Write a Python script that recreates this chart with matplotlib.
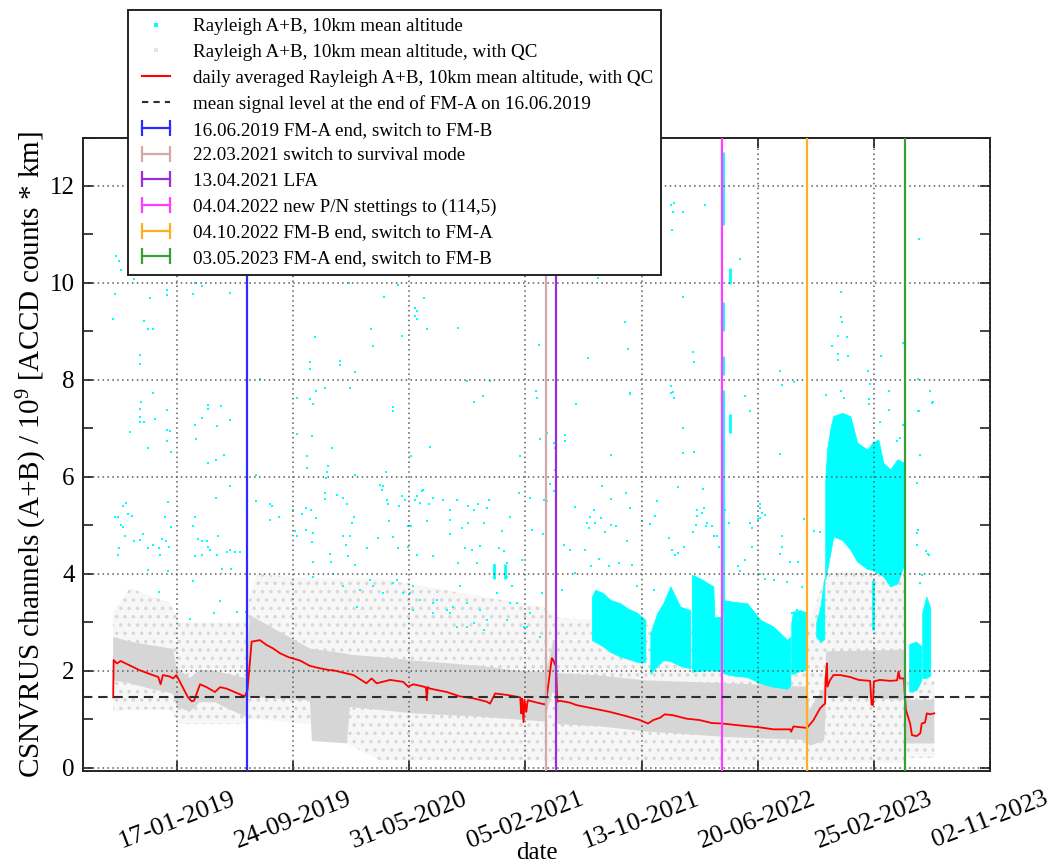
import numpy as np
import pandas as pd
import matplotlib
matplotlib.use("Agg")
import matplotlib.pyplot as plt
import matplotlib.dates as mdates
from matplotlib.lines import Line2D
from matplotlib.legend_handler import HandlerLine2D
from matplotlib.ticker import MultipleLocator

plt.rcParams['font.family'] = ['Liberation Serif', 'DejaVu Serif']
plt.rcParams['mathtext.fontset'] = 'custom'
plt.rcParams['mathtext.rm'] = 'Liberation Serif'
plt.rcParams['mathtext.it'] = 'Liberation Serif:italic'
plt.rcParams['hatch.linewidth'] = 1.3

# ---------------------------------------------------------------- data
# daily averaged Rayleigh A+B signal (with QC), per instrument period
red_fma1_dates = ["2018-09-02", "2018-09-03", "2018-09-10", "2018-09-18", "2018-10-29",
                  "2018-11-20", "2018-12-08", "2018-12-13", "2018-12-18", "2019-01-02",
                  "2019-01-09", "2019-01-16", "2019-02-10", "2019-02-18", "2019-02-23",
                  "2019-03-08", "2019-03-22", "2019-04-09", "2019-04-20", "2019-05-04",
                  "2019-05-26", "2019-06-12"]
red_fma1_vals = [1.45, 2.22, 2.15, 2.20, 2.01, 1.93, 1.87, 1.72, 1.91, 1.88, 1.84, 1.91,
                 1.45, 1.37, 1.38, 1.72, 1.66, 1.56, 1.66, 1.63, 1.54, 1.47]

red_fmb1_dates = ["2019-06-18", "2019-06-27", "2019-07-15", "2019-07-29", "2019-08-12",
                  "2019-08-27", "2019-09-14", "2019-10-09", "2019-10-30", "2019-11-21",
                  "2019-12-12", "2019-12-19",
                  "2020-02-01", "2020-02-29", "2020-03-11", "2020-03-22", "2020-04-20",
                  "2020-05-18", "2020-05-29", "2020-06-09", "2020-07-06", "2020-07-08",
                  "2020-07-10", "2020-07-15", "2020-08-20", "2020-09-17", "2020-10-16",
                  "2020-11-14", "2020-11-21", "2020-12-02", "2020-12-27",
                  "2021-01-25", "2021-01-27", "2021-01-29", "2021-02-01", "2021-02-03",
                  "2021-02-07", "2021-02-10", "2021-02-11", "2021-02-22", "2021-03-16",
                  "2021-03-20"]
red_fmb1_vals = [1.60, 2.60, 2.63, 2.53, 2.46, 2.36, 2.28, 2.21, 2.10, 2.05, 2.01, 2.01,
                 1.91, 1.74, 1.84, 1.74, 1.81, 1.77, 1.67, 1.72, 1.66, 1.39, 1.66, 1.63,
                 1.56, 1.47, 1.43, 1.36, 1.32, 1.53, 1.50,
                 1.45, 1.12, 1.42, 0.94, 1.40, 1.15, 1.38, 1.39, 1.36, 1.31, 1.30]

red_survival_dates = ["2021-03-23", "2021-04-03", "2021-04-06", "2021-04-10", "2021-04-12"]
red_survival_vals = [1.46, 2.26, 2.22, 2.12, 2.10]

red_fmb2_dates = ["2021-04-15", "2021-04-20", "2021-05-12", "2021-05-26", "2021-07-01",
                  "2021-08-06", "2021-09-11", "2021-10-10", "2021-10-27", "2021-11-07",
                  "2021-11-22", "2021-12-02", "2021-12-20",
                  "2022-01-18", "2022-02-16", "2022-03-13", "2022-04-05", "2022-05-13",
                  "2022-06-25", "2022-07-24", "2022-08-29", "2022-08-31", "2022-09-05",
                  "2022-10-03"]
red_fmb2_vals = [1.36, 1.38, 1.34, 1.29, 1.22, 1.15, 1.06, 0.98, 0.91, 0.98, 1.03, 1.10,
                 1.08, 1.01, 0.98, 0.92, 0.91, 0.87, 0.83, 0.79, 0.79, 0.74, 0.85, 0.82]

red_fma2_dates = ["2022-10-06", "2022-10-18", "2022-11-01", "2022-11-08", "2022-11-12",
                  "2022-11-13", "2022-11-16", "2022-11-17", "2022-11-23", "2022-11-30",
                  "2022-12-14",
                  "2023-01-05", "2023-01-23", "2023-02-17", "2023-02-20", "2023-02-23",
                  "2023-02-25", "2023-03-10", "2023-04-01", "2023-04-16", "2023-04-19",
                  "2023-04-22", "2023-05-01", "2023-05-02"]
red_fma2_vals = [0.84, 0.98, 1.22, 1.29, 1.32, 1.81, 2.15, 1.67, 1.81, 1.91, 1.91,
                 1.87, 1.81, 1.79, 1.30, 1.29, 1.78, 1.81, 1.79, 1.80, 1.98, 1.84, 1.84, 1.60]

red_fmb3_dates = ["2023-05-05", "2023-05-14", "2023-05-18", "2023-05-28", "2023-06-05",
                  "2023-06-08", "2023-06-15", "2023-06-19", "2023-06-26", "2023-07-05"]
red_fmb3_vals = [1.19, 0.91, 0.67, 0.65, 0.71, 0.91, 0.93, 1.12, 1.10, 1.12]

# QC-passed single measurements: dense core (decimal year, low, high)
qc_core_year = [2018.668, 2018.767, 2018.884, 2019.020, 2019.044, 2019.120, 2019.179,
                2019.268, 2019.356, 2019.451, 2019.456, 2019.474, 2019.651, 2019.828,
                2019.840, 2020.046, 2020.064, 2020.240, 2020.435, 2020.830, 2021.025,
                2021.213, 2021.219, 2021.260, 2021.280, 2021.285, 2021.538, 2021.803,
                2022.286, 2022.755, 2022.770, 2022.858, 2022.870, 2023.331, 2023.340,
                2023.507]
qc_core_low = [1.80, 1.74, 1.63, 1.53, 1.26, 1.15, 1.35, 1.35, 1.20, 1.05, 1.40, 1.46,
               1.42, 1.39, 0.55, 0.50, 1.25, 1.19, 1.12, 1.05, 1.00, 0.95, 1.10, 1.60,
               1.50, 0.90, 0.85, 0.75, 0.63, 0.57, 0.45, 0.55, 1.46, 1.40, 0.50, 0.50]
qc_core_high = [2.70, 2.60, 2.53, 2.45, 2.05, 1.85, 2.02, 2.00, 1.92, 1.85, 2.10, 3.15,
                2.80, 2.46, 2.45, 2.35, 2.33, 2.28, 2.21, 2.10, 2.01, 1.97, 2.00, 2.60,
                2.50, 1.95, 1.90, 1.80, 1.74, 1.67, 1.20, 1.65, 2.40, 2.43, 1.40, 1.40]

# QC-passed single measurements: sparse spread (decimal year, low, high)
qc_spread_year = [2018.668, 2018.767, 2019.002, 2019.061, 2019.451, 2019.456, 2019.515,
                  2019.828, 2020.240, 2021.213, 2021.285, 2022.755, 2022.770, 2022.870,
                  2023.331, 2023.340, 2023.507]
qc_spread_low = [1.15, 1.20, 1.20, 0.90, 0.90, 1.00, 1.00, 0.90, 0.15, 0.15, 0.05, 0.05,
                 0.10, 0.10, 0.10, 0.20, 0.20]
qc_spread_high = [3.20, 3.70, 3.40, 3.00, 3.00, 3.30, 4.00, 3.90, 3.90, 3.30, 3.10, 2.70,
                  3.00, 4.00, 4.20, 1.80, 1.80]

# all measurements without QC: dense clusters (decimal year, low, high)
raw_clusters = [
    ([2021.489, 2021.508, 2021.555, 2021.597, 2021.656, 2021.697, 2021.756, 2021.803],
     [2.63, 2.60, 2.50, 2.39, 2.29, 2.25, 2.18, 2.18],
     [3.53, 3.67, 3.60, 3.46, 3.39, 3.29, 3.19, 3.05]),
    ([2021.833, 2021.874, 2021.909, 2021.951, 2021.980, 2022.009, 2022.068],
     [1.94, 2.10, 2.22, 2.20, 2.15, 2.10, 2.05],
     [2.77, 3.19, 3.39, 3.74, 3.53, 3.32, 3.25]),
    ([2022.078, 2022.127, 2022.204, 2022.210, 2022.257],
     [1.98, 2.00, 2.01, 2.00, 2.00],
     [3.98, 3.90, 3.74, 3.10, 3.12]),
    ([2022.263, 2022.322, 2022.404, 2022.481, 2022.558, 2022.640, 2022.658],
     [1.95, 1.90, 1.87, 1.74, 1.67, 1.63, 1.70],
     [3.46, 3.42, 3.39, 3.05, 2.91, 2.63, 2.70]),
    ([2022.664, 2022.675, 2022.717, 2022.752],
     [1.94, 1.94, 2.00, 2.01],
     [3.00, 3.22, 3.25, 3.20]),
    ([2022.811, 2022.835, 2022.858],
     [2.70, 2.60, 2.65],
     [3.00, 3.30, 3.90]),
    ([2022.864, 2022.876, 2022.894, 2022.911, 2022.964, 2023.012, 2023.053, 2023.112,
      2023.141, 2023.177, 2023.206, 2023.247, 2023.289, 2023.324, 2023.333],
     [3.88, 4.10, 4.43, 4.77, 4.70, 4.50, 4.25, 4.10, 4.08, 4.01, 3.95, 3.74, 3.80, 4.15, 4.20],
     [5.94, 6.60, 6.98, 7.25, 7.32, 7.25, 6.70, 6.56, 6.70, 6.77, 6.29, 6.15, 6.36, 6.30, 6.00]),
    ([2023.359, 2023.401, 2023.430],
     [1.57, 1.60, 1.80],
     [2.55, 2.60, 2.50]),
    ([2023.436, 2023.460, 2023.483],
     [1.85, 1.85, 1.90],
     [3.20, 3.53, 3.30]),
]

# narrow runs of consecutive raw measurements (decimal year, low, high)
raw_run_year = [2022.260, 2022.263, 2022.263, 2022.263, 2022.263, 2022.300, 2022.300,
                2023.147, 2020.909, 2020.977]
raw_run_low = [11.20, 9.00, 8.10, 7.00, 3.20, 9.97, 6.90, 2.84, 3.90, 3.90]
raw_run_high = [12.70, 9.60, 8.50, 7.80, 7.20, 10.30, 7.30, 3.88, 4.20, 4.20]

# isolated raw measurements (decimal year, value)
raw_isolated = [
    (2018.712, 10.26), (2018.790, 10.08), (2018.678, 9.77), (2018.886, 9.68), (2018.983, 9.86),
    (2018.983, 9.75), (2018.668, 9.25), (2018.851, 9.22), (2018.871, 9.04), (2018.904, 9.04),
    (2018.825, 8.51), (2018.825, 8.33), (2019.140, 9.77), (2019.193, 9.93), (2019.360, 9.79),
    (2019.150, 10.00), (2018.904, 7.72), (2018.830, 7.54), (2018.825, 7.39), (2018.825, 7.23),
    (2018.851, 7.13), (2018.825, 7.13), (2018.983, 7.37), (2018.914, 7.20), (2018.765, 6.92),
    (2018.983, 6.97), (2019.002, 6.95), (2018.983, 6.74), (2018.871, 6.59), (2019.008, 6.52),
    (2019.228, 7.49), (2019.228, 7.39), (2019.307, 7.47), (2019.195, 7.22), (2019.150, 7.07),
    (2019.278, 7.04), (2019.360, 7.17), (2019.157, 6.79), (2019.322, 6.46), (2019.272, 6.34),
    (2019.228, 6.28), (2018.684, 10.55), (2018.702, 10.45),
    (2019.535, 8.02), (2019.513, 6.03), (2019.857, 8.88), (2019.828, 8.36), (2019.828, 8.22),
    (2020.005, 8.39), (2020.005, 8.30), (2020.093, 8.17), (2020.187, 9.04), (2020.197, 8.70),
    (2020.266, 9.71), (2020.372, 8.91), (2020.348, 9.96), (2020.058, 9.99), (2019.918, 7.84),
    (2019.865, 7.77), (2019.828, 7.60), (2019.845, 7.50), (2019.753, 7.63), (2020.064, 7.84),
    (2020.319, 7.45), (2020.319, 7.36), (2019.753, 6.89), (2019.838, 6.84), (2019.959, 6.59),
    (2019.814, 6.43), (2019.814, 6.18), (2019.934, 6.22), (2019.928, 6.10), (2019.922, 5.98),
    (2020.276, 6.10), (2020.093, 6.03), (2020.423, 6.43), (2020.447, 9.49), (2020.457, 9.42),
    (2020.447, 9.32), (2020.460, 9.25), (2020.502, 9.68), (2020.519, 9.04), (2020.702, 9.06),
    (2020.755, 7.97), (2020.889, 7.97), (2020.791, 7.54), (2020.844, 7.66), (2020.535, 6.62),
    (2021.062, 6.43), (2021.184, 6.77), (2021.158, 7.77), (2021.164, 7.63), (2021.174, 8.71),
    (2021.954, 11.60), (2021.970, 11.65), (2021.966, 11.46), (2022.023, 11.46), (2021.960, 11.09),
    (2022.153, 11.60), (2022.363, 10.50), (2023.418, 10.90), (2021.522, 10.10), (2022.023, 9.71),
    (2021.681, 9.20), (2021.699, 8.63), (2021.463, 8.45), (2022.082, 8.57), (2022.092, 8.37),
    (2021.715, 7.71), (2021.394, 7.51), (2021.954, 7.87), (2021.966, 7.74), (2021.970, 7.63),
    (2022.388, 7.67), (2022.422, 7.36), (2022.599, 8.18), (2022.609, 7.90), (2022.677, 7.96),
    (2022.957, 9.82), (2022.957, 9.29), (2022.963, 9.20), (2022.939, 8.91), (2022.992, 8.89),
    (2022.904, 8.70), (2022.939, 8.54), (2022.939, 8.42), (2023.000, 8.50), (2022.868, 7.69),
    (2022.957, 7.78), (2022.976, 7.63), (2023.114, 8.18), (2023.130, 7.91), (2023.120, 7.61),
    (2023.120, 7.51), (2023.193, 8.50), (2023.237, 7.77), (2023.237, 7.38), (2023.322, 8.76),
    (2023.411, 8.02), (2023.411, 7.35), (2023.479, 7.77), (2023.497, 7.54), (2023.188, 7.14),
    (2023.322, 7.06), (2021.331, 6.87), (2021.331, 6.73), (2021.262, 6.70), (2021.272, 6.60),
    (2021.601, 6.44), (2022.023, 7.01), (2022.023, 6.49), (2022.092, 6.51), (2022.599, 6.47),
    (2021.223, 6.90), (2021.272, 6.15), (2023.287, 6.73), (2023.414, 7.36), (2023.424, 6.46),
    (2023.405, 5.87), (2023.306, 6.80), (2023.493, 7.53),
    (2018.678, 5.18), (2018.697, 5.18), (2018.727, 5.39), (2018.747, 5.46), (2018.756, 5.23),
    (2018.782, 5.20), (2018.713, 5.01), (2018.727, 4.96), (2018.739, 4.77), (2018.790, 4.67),
    (2018.825, 4.70), (2018.845, 4.81), (2018.703, 4.53), (2018.694, 4.38), (2018.874, 4.53),
    (2018.904, 4.60), (2018.939, 4.53), (2018.959, 4.72), (2018.979, 4.67), (2018.998, 4.56),
    (2018.943, 4.39), (2018.975, 5.18), (2018.992, 5.48), (2019.008, 4.96), (2019.148, 5.18),
    (2019.140, 4.99), (2019.166, 4.72), (2019.195, 4.67), (2019.219, 4.67), (2019.228, 4.56),
    (2019.242, 4.50), (2019.287, 4.77), (2019.150, 4.36), (2019.195, 4.38), (2019.278, 4.39),
    (2019.337, 4.44), (2019.360, 4.50), (2019.386, 4.44), (2019.415, 4.44), (2019.272, 5.56),
    (2019.360, 5.82),
    (2019.513, 5.51), (2019.594, 5.44), (2019.602, 5.40), (2019.592, 5.11), (2019.647, 5.17),
    (2019.726, 5.32), (2019.779, 5.23), (2019.808, 5.36), (2019.835, 5.31), (2019.863, 5.15),
    (2019.920, 5.67), (2019.920, 5.54), (2019.987, 5.63), (2020.024, 5.57), (2020.048, 5.44),
    (2020.089, 5.17), (2020.077, 5.05), (2019.743, 4.88), (2019.753, 4.77), (2019.804, 4.91),
    (2019.847, 4.84), (2019.841, 4.65), (2019.847, 4.25), (2019.946, 4.40), (2019.952, 4.25),
    (2020.024, 4.77), (2020.044, 4.60), (2020.064, 4.77), (2020.050, 4.36), (2020.093, 4.19),
    (2020.162, 4.54), (2020.230, 4.73), (2020.256, 5.81), (2020.250, 5.73), (2020.240, 5.84),
    (2020.283, 5.53), (2020.286, 5.43), (2020.294, 5.08), (2020.319, 4.75), (2020.345, 4.53),
    (2020.354, 5.39), (2020.368, 5.60), (2020.388, 5.53), (2020.404, 4.56), (2020.407, 4.98),
    (2020.423, 4.98), (2020.447, 5.53), (2020.460, 5.60), (2020.476, 5.46), (2020.486, 5.70),
    (2020.496, 5.73), (2020.531, 5.43), (2020.555, 5.56), (2020.516, 5.08), (2020.555, 4.37),
    (2020.460, 4.38), (2020.614, 5.53), (2020.653, 5.32), (2020.653, 5.11), (2020.693, 5.53),
    (2020.761, 5.39), (2020.791, 5.32), (2020.820, 5.44), (2020.879, 5.53), (2020.870, 5.36),
    (2020.850, 5.05), (2020.761, 5.05), (2020.722, 4.94), (2020.653, 4.81), (2020.742, 4.53),
    (2020.781, 4.48), (2020.830, 4.58), (2020.938, 4.53), (2020.968, 4.46), (2020.958, 4.88),
    (2021.007, 5.18), (2021.056, 5.67), (2021.125, 5.56), (2021.135, 4.91), (2021.203, 5.53),
    (2021.200, 4.81), (2020.702, 4.22), (2020.811, 4.23), (2020.909, 4.18), (2020.987, 4.22),
    (2021.076, 4.29),
    (2021.223, 5.50), (2021.203, 5.52), (2021.243, 5.85), (2021.262, 5.70), (2021.390, 5.38),
    (2021.498, 5.31), (2021.479, 5.18), (2021.459, 5.05), (2021.469, 4.94), (2021.508, 5.05),
    (2021.543, 5.15), (2021.601, 5.01), (2021.632, 4.99), (2021.567, 4.86), (2021.695, 4.67),
    (2021.783, 5.08), (2021.832, 5.03), (2021.862, 5.20), (2021.940, 4.74), (2021.960, 4.50),
    (2021.980, 4.39), (2021.993, 4.43), (2022.029, 4.56), (2022.082, 4.87), (2022.104, 5.01),
    (2022.161, 4.99), (2022.196, 4.99), (2022.206, 4.77), (2022.275, 5.32), (2022.294, 5.05),
    (2022.481, 5.43), (2022.510, 5.22), (2022.481, 5.15), (2022.465, 5.13), (2022.432, 4.55),
    (2022.595, 4.41), (2022.609, 4.56), (2022.638, 3.82), (2022.740, 5.12), (2021.357, 4.50),
    (2021.325, 4.60), (2021.445, 4.48), (2021.483, 4.15), (2021.528, 4.30), (2021.587, 4.15),
    (2021.646, 4.22), (2021.725, 4.18), (2021.754, 3.74), (2021.852, 3.67), (2021.386, 4.01),
    (2021.312, 3.66), (2021.548, 5.82), (2021.601, 5.54), (2021.691, 5.67), (2021.715, 5.36),
    (2021.872, 5.51), (2021.996, 5.78), (2022.143, 5.75), (2022.108, 5.32), (2022.108, 5.20),
    (2021.715, 7.72), (2021.954, 7.73), (2021.970, 7.63),
    (2022.226, 4.77), (2022.235, 4.56), (2022.167, 5.05), (2022.137, 5.25), (2022.147, 5.35),
    (2022.432, 4.94), (2022.422, 5.05), (2022.481, 5.35), (2022.491, 5.25), (2022.351, 4.15),
    (2022.363, 4.06), (2022.393, 4.28), (2022.481, 4.00), (2022.510, 3.90), (2022.559, 3.88),
    (2022.609, 4.77), (2022.795, 4.88), (2022.835, 4.87), (2022.658, 4.25), (2022.705, 4.25),
    (2022.727, 3.73), (2022.697, 3.25), (2022.668, 3.18), (2023.411, 4.91), (2023.405, 4.60),
    (2023.458, 4.46), (2023.434, 3.98), (2023.424, 3.81), (2023.470, 4.40), (2023.473, 4.39),
    (2023.405, 4.84),
    (2018.871, 4.08), (2018.939, 3.62), (2018.992, 4.05), (2019.140, 3.86), (2019.120, 3.06),
    (2019.264, 3.20), (2019.297, 3.43), (2019.309, 4.10), (2019.362, 4.10), (2019.401, 3.22),
    (2019.449, 3.22), (2019.847, 3.94), (2019.965, 4.00), (2020.024, 3.74), (2020.103, 3.32),
    (2020.201, 3.74), (2020.319, 3.80), (2020.378, 3.60), (2020.437, 3.25), (2020.437, 3.74),
    (2020.555, 3.39), (2020.634, 3.25), (2020.712, 3.74), (2020.752, 3.39), (2020.791, 2.98),
    (2020.830, 3.25), (2020.909, 4.15), (2020.928, 3.60), (2020.987, 3.05), (2021.007, 3.39),
    (2021.085, 2.91), (2021.125, 3.18), (2021.184, 2.70), (2020.555, 3.18), (2020.653, 3.18),
    (2020.693, 2.91), (2020.575, 3.46), (2020.673, 3.32), (2020.850, 2.84), (2020.987, 3.94),
    (2021.017, 3.74), (2021.046, 3.39), (2021.105, 2.91), (2021.194, 3.60), (2020.870, 3.05),
    (2020.752, 2.91), (2020.476, 3.46), (2020.417, 3.60), (2020.339, 3.87), (2020.260, 3.60),
    (2020.182, 3.87), (2020.123, 3.67),
]

reference_level = 1.45   # mean signal at the end of FM-A, 16.06.2019

event_dates = ["2019-06-16", "2021-03-22", "2021-04-13", "2022-04-04", "2022-10-04", "2023-05-03"]
event_labels = ["16.06.2019 FM-A end, switch to FM-B",
                "22.03.2021 switch to survival mode",
                "13.04.2021 LFA",
                "04.04.2022 new P/N stettings to (114,5)",
                "04.10.2022 FM-B end, switch to FM-A",
                "03.05.2023 FM-A end, switch to FM-B"]
event_colors = ["#2b2bff", "#d4a9a9", "#9a2fd6", "#ff3cff", "#ffad25", "#38a038"]

tick_dates = pd.date_range("2019-01-17", periods=8, freq="250D")
x_start, x_end = "2018-06-29", "2023-11-02"


def from_decimal_year(values):
    out = []
    for v in np.atleast_1d(np.asarray(values, dtype=float)):
        y = int(np.floor(v))
        start = pd.Timestamp(year=y, month=1, day=1)
        end = pd.Timestamp(year=y + 1, month=1, day=1)
        out.append(start + (end - start) * (v - y))
    return pd.DatetimeIndex(out).values


# ---------------------------------------------------------------- figure
fig = plt.figure(figsize=(10.53, 8.67), dpi=100)
ax = fig.add_axes([0.0788, 0.1107, 0.8614, 0.7307])

cyan = "#00ffff"
gray = "#d6d6d6"

# QC-passed measurements (gray)
ax.fill_between(from_decimal_year(qc_spread_year), qc_spread_low, qc_spread_high,
                facecolor="#f7f7f7", edgecolor="#d8d8d8", hatch="..", linewidth=0, zorder=1.0)
ax.fill_between(from_decimal_year(qc_core_year), qc_core_low, qc_core_high,
                facecolor=gray, edgecolor="none", linewidth=0, zorder=1.1)

# raw measurements (cyan)
for yrs, lo, hi in raw_clusters:
    ax.fill_between(from_decimal_year(yrs), lo, hi, facecolor=cyan, edgecolor=cyan,
                    linewidth=0.6, zorder=1.5)
ax.vlines(from_decimal_year(raw_run_year), raw_run_low, raw_run_high, color=cyan,
          linewidth=2.0, zorder=1.5)
iso_year, iso_val = zip(*raw_isolated)
ax.scatter(from_decimal_year(iso_year), iso_val, s=4, marker="s", color=cyan,
           linewidths=0, zorder=1.6)

# daily average
red_dates = pd.to_datetime(red_fma1_dates + red_fmb1_dates + red_survival_dates
                           + red_fmb2_dates + red_fma2_dates + red_fmb3_dates).values
red_vals = (red_fma1_vals + red_fmb1_vals + red_survival_vals
            + red_fmb2_vals + red_fma2_vals + red_fmb3_vals)
ax.plot(red_dates, red_vals, color="#ff0000", linewidth=1.3, zorder=3)

ax.axhline(reference_level, color="#2e2e2e", linewidth=1.5, linestyle=(0, (4.5, 2.8)), zorder=3.2)

for d, c in zip(event_dates, event_colors):
    ax.axvline(pd.Timestamp(d), color=c, linewidth=1.6, zorder=3.1)

# axes styling
ax.set_xlim(pd.Timestamp(x_start), pd.Timestamp(x_end))
ax.set_ylim(-0.07, 13.0)
ax.set_xticks(tick_dates)
ax.xaxis.set_major_formatter(mdates.DateFormatter("%d-%m-%Y"))
ax.yaxis.set_major_locator(MultipleLocator(2))
ax.yaxis.set_minor_locator(MultipleLocator(1))
ax.set_axisbelow(False)
ax.grid(True, which="major", color="#5a5a5a", linestyle=(0, (1, 2.2)), linewidth=1.1)
for gl in ax.get_xgridlines() + ax.get_ygridlines():
    gl.set_zorder(2.5)

ax.tick_params(axis="both", which="both", direction="in", top=True, right=True,
               color="#222222", width=1.2)
ax.tick_params(axis="both", which="major", length=7)
ax.tick_params(axis="y", which="minor", length=7)
ax.tick_params(axis="x", which="minor", length=0)
ax.tick_params(axis="y", labelsize=18, pad=6)
ax.tick_params(axis="x", labelsize=19, pad=12, labelrotation=21)
for sp in ax.spines.values():
    sp.set_linewidth(1.4)
    sp.set_color("#222222")

ax.set_ylabel(r"CSNVRUS channels (A+B) / 10$^{9}$ [ACCD counts * km]", fontsize=21)
ax.yaxis.set_label_coords(-0.037, 0.5)
ax.set_xlabel("date", fontsize=18)
ax.xaxis.set_label_coords(0.5, -0.112)

# legend
handles = [
    Line2D([], [], linestyle="none", marker="s", markersize=2.2, color=cyan, markeredgewidth=0),
    Line2D([], [], linestyle="none", marker="s", markersize=2.2, color="#e4e4e4", markeredgewidth=0),
    Line2D([], [], color="#ff0000", linewidth=1.5),
    Line2D([], [], color="#2e2e2e", linewidth=1.5, linestyle=(0, (3, 2.5))),
]
labels = ["Rayleigh A+B, 10km mean altitude",
          "Rayleigh A+B, 10km mean altitude, with QC",
          "daily averaged Rayleigh A+B, 10km mean altitude, with QC",
          "mean signal level at the end of FM-A on 16.06.2019"]
for c, lab in zip(event_colors, event_labels):
    handles.append(Line2D([0, 1], [0, 0], color=c, linewidth=1.6, marker="|",
                          markersize=11, markeredgewidth=1.6))
    labels.append(lab)

single = HandlerLine2D(numpoints=1)
leg = fig.legend(handles, labels, loc="upper left",
                 bbox_to_anchor=(128 / 1053, 1 - 10 / 867), bbox_transform=fig.transFigure,
                 borderaxespad=0, fontsize=13.7, frameon=True, fancybox=False,
                 framealpha=1, edgecolor="#222222", handlelength=2.1, handletextpad=0.9,
                 labelspacing=0.44, borderpad=0.42, numpoints=2,
                 handler_map={handles[0]: single, handles[1]: single})
leg.get_frame().set_linewidth(1.4)
leg.set_zorder(10)

fig.savefig("out.png", dpi=100)
